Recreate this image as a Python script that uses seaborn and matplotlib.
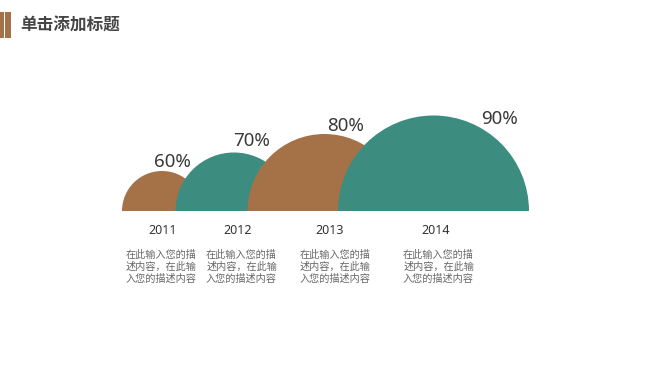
import matplotlib.pyplot as plt
import seaborn as sns
from matplotlib.patches import Wedge, Rectangle

# chart data
years = ['2011', '2012', '2013', '2014']
values = [60, 70, 80, 90]
pct_labels = ['60%', '70%', '80%', '90%']
desc = '在此输入您的描\n述内容，在此输\n入您的描述内容'
title = '单击添加标题'

sns.set_theme(style='white')
plt.rcParams['font.family'] = ['Noto Sans CJK SC', 'DejaVu Sans']
brown, teal = sns.color_palette(['#A57248', '#3C8C80'])
colors = [brown, teal, brown, teal]

fig = plt.figure(figsize=(6.68, 3.76), dpi=100)
ax = fig.add_axes([0, 0, 1, 1])
ax.set_xlim(0, 668)
ax.set_ylim(376, 0)
ax.axis('off')

# layout
base = 211             # baseline of the half circles
r_lo, r_hi = 40, 95.5  # radius for smallest / largest value
first_cx = 162
gap = 13.5             # next circle starts this far right of previous centre
label_dx = [10, 18, 21, 66]
label_dy = [9, 12, 8, -3]
year_dx = [1, 3.5, 5.5, 2]
desc_dx = [-1, 7.5, 10.5, 5]

vmin, vmax = min(values), max(values)
radii = [r_lo + (v - vmin) / (vmax - vmin) * (r_hi - r_lo) for v in values]

cx = first_cx
for i, (yr, v, r) in enumerate(zip(years, values, radii)):
    if i > 0:
        cx = prev_cx + gap + r
    ax.add_patch(Wedge((cx, base), r, 180, 360, facecolor=colors[i],
                       edgecolor='none', zorder=2 + i))
    ax.text(cx + label_dx[i], base - r - label_dy[i], pct_labels[i],
            ha='center', va='center', fontsize=13.5, color='#3a3a3a',
            family=['Noto Sans', 'DejaVu Sans'], zorder=10)
    ax.text(cx + year_dx[i], 231, yr, ha='center', va='center', fontsize=9,
            color='#333333', family=['Noto Sans', 'DejaVu Sans'])
    ax.text(cx + desc_dx[i], 250, desc, ha='center', va='top', fontsize=7.3,
            color='#666666', linespacing=1.2, multialignment='left')
    prev_cx = cx

# title bar
ax.add_patch(Rectangle((0, 12), 4, 26, facecolor=brown, edgecolor='none'))
ax.add_patch(Rectangle((5, 12), 6, 26, facecolor=brown, edgecolor='none'))
ax.text(20, 26, title, ha='left', va='center', fontsize=12,
        fontweight='bold', color='#454545')

fig.savefig('out.png', dpi=100)
